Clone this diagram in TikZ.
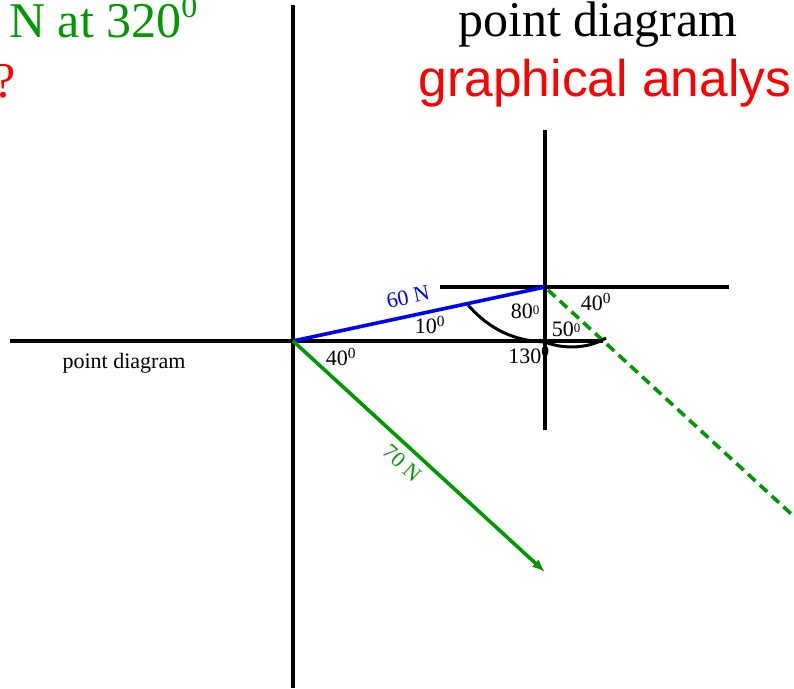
\documentclass[tikz,border=0pt]{standalone}
\usepackage{fontspec}
\setmainfont{Liberation Serif}
\newfontfamily\arialfam{Liberation Sans}
\usetikzlibrary{arrows.meta}
\definecolor{fgreen}{HTML}{009900}
\definecolor{fblue}{HTML}{0000FF}
\definecolor{fred}{HTML}{FF0000}
\tikzset{
  >={Latex[length=13pt,width=10pt]},
  axisline/.style={line width=3.6pt,draw=black},
  bluevec/.style={line width=3.6pt,draw=fblue},
  greenvec/.style={->,line width=3.6pt,draw=fgreen},
  greendash/.style={line width=3.6pt,draw=fgreen,dash pattern=on 10pt off 6pt},
  anglearc/.style={line width=3pt,draw=black},
  lbl/.style={font=\fontsize{22}{24}\selectfont,inner sep=0pt},
  bigtxt/.style={font=\fontsize{50}{54}\selectfont,inner sep=0pt,anchor=base}
}
\newcommand{\smallo}{\raisebox{0.35ex}{\fontsize{13}{14}\selectfont 0}}
\newcommand{\bigsup}{\raisebox{0.85ex}{\fontsize{32}{34}\selectfont 0}}

\begin{document}
\begin{tikzpicture}[x=1pt,y=-1pt]
  \useasboundingbox (0,0) rectangle (794,688);
  % main axes
  \coordinate (o) at (293,341);
  \coordinate (xl) at (10,341); \coordinate (xr) at (603,341);
  \coordinate (yt) at (293,5); \coordinate (yb) at (293,688);
  \draw[axisline] (xl)--(xr);
  \draw[axisline] (yt)--(yb);
  % second axes at the head of the 60 N vector
  \coordinate (p) at (545,287);
  \coordinate (pl) at (440,287); \coordinate (pr) at (729,287);
  \coordinate (pt) at (545,130); \coordinate (pb) at (545,430);
  \draw[axisline] (pl)--(pr);
  \draw[axisline] (pt)--(pb);
  % vectors
  \coordinate (g) at (545,572);
  \coordinate (gd) at (548,290); \coordinate (ge) at (800,522);
  \draw[bluevec] (o)--(p);
  \draw[greenvec] (o)--(g);
  \draw[greendash] (gd)--(ge);
  % angle arcs
  \coordinate (a1) at (468,305); \coordinate (a2) at (545,342);
  \coordinate (a3) at (606,338);
  \draw[anglearc] (a1) .. controls (490,330) and (515,341) .. (a2);
  \draw[anglearc] (a2) .. controls (565,350) and (590,348) .. (a3);
  % labels
  \node[lbl,text=fblue,rotate=12] (l60) at (408,297) {60 N};
  \node[lbl,text=fgreen,rotate=-42.5] (l70) at (402,463) {70 N};
  \node[lbl] (a10) at (430,325) {10\textsuperscript{0}};
  \node[lbl] (a80) at (525,311) {80\smallo};
  \node[lbl] (a40r) at (596,302) {40\textsuperscript{0}};
  \node[lbl] (a50) at (566,329) {50\smallo};
  \node[lbl] (a130) at (529,355) {130\textsuperscript{0}};
  \node[lbl] (a40l) at (341,357) {40\textsuperscript{0}};
  \node[lbl,anchor=base] (pd) at (124,368) {point diagram};
  % titles
  \node[bigtxt] (title) at (598,36) {point diagram};
  \node[bigtxt,text=fred,font=\arialfam\fontsize{51.5}{54}\selectfont] (graph) at (605,96) {graphical analys};
  \node[bigtxt,text=fgreen,anchor=base west] (force) at (9,37) {N at 320\bigsup};
  \node[bigtxt,text=fred] (quest) at (5,97) {?};
\end{tikzpicture}
\end{document}
